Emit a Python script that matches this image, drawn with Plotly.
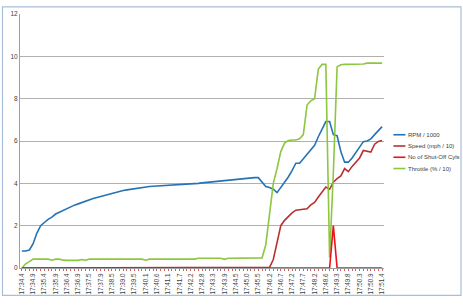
import plotly.graph_objects as go

# ---- data ----
tick_labels = ["17:34.4","17:34.9","17:35.4","17:35.9","17:36.4","17:36.9","17:37.5","17:37.9",
               "17:38.5","17:39.0","17:39.5","17:40.1","17:40.6","17:41.1","17:41.7","17:42.2",
               "17:42.8","17:43.3","17:43.9","17:44.5","17:45.0","17:45.5","17:46.2","17:46.7",
               "17:47.2","17:47.7","17:48.2","17:48.6","17:49.3","17:49.8","17:50.3","17:50.9",
               "17:51.4"]

rpm = [0.8, 0.8, 0.85, 1.15, 1.65, 2.0, 2.15, 2.3, 2.4, 2.55,
       2.63, 2.72, 2.82, 2.9, 2.97, 3.03, 3.1, 3.16, 3.22, 3.28,
       3.33, 3.38, 3.43, 3.48, 3.53, 3.58, 3.62, 3.66, 3.69, 3.72,
       3.75, 3.78, 3.82, 3.84, 3.85, 3.86, 3.87, 3.88, 3.89, 3.9,
       3.91, 3.92, 3.92, 3.93, 3.94, 3.96, 3.98, 4.0, 4.02, 4.04,
       4.06, 4.08, 4.1, 4.12, 4.14, 4.16, 4.18, 4.2, 4.22, 4.24,
       4.25, 4.26, 4.27, 4.27, 4.05, 3.85, 3.8, 3.72, 3.56, 3.8,
       4.05, 4.3, 4.6, 4.95, 4.95, 5.15, 5.4, 5.6, 5.8, 6.2,
       6.6, 6.92, 6.92, 6.3, 6.25, 5.5, 5.0, 5.0, 5.2, 5.45,
       5.7, 5.97, 6.0, 6.1, 6.3, 6.5, 6.68]

speed = [0.0] * 66 + [0.03, 0.4, 1.2, 2.0, 2.25, 2.45, 2.6, 2.73, 2.76, 2.78,
                      2.8, 2.98, 3.1, 3.35, 3.6, 3.82, 3.72, 4.05, 4.22, 4.35,
                      4.7, 4.55, 4.8, 4.98, 5.2, 5.55, 5.5, 5.48, 5.85, 5.98, 6.02]

shutoff = [0]*83 + [2] + [0]*13

throttle = [0.0, 0.2, 0.3, 0.42, 0.42, 0.42, 0.42, 0.42, 0.37, 0.42,
            0.42, 0.37, 0.36, 0.36, 0.36, 0.36, 0.4, 0.36, 0.42, 0.42,
            0.42, 0.42, 0.42, 0.42, 0.42, 0.42, 0.42, 0.42, 0.42, 0.42,
            0.42, 0.42, 0.42, 0.37, 0.42, 0.42, 0.42, 0.42, 0.42, 0.42,
            0.42, 0.42, 0.42, 0.42, 0.42, 0.42, 0.42, 0.46, 0.46, 0.46,
            0.46, 0.46, 0.46, 0.46, 0.41, 0.46, 0.46, 0.46, 0.46, 0.46,
            0.46, 0.46, 0.46, 0.47, 0.48, 1.1, 2.6, 4.0, 4.7, 5.5,
            5.9, 6.02, 6.05, 6.05, 6.1, 6.3, 7.7, 7.9, 8.0, 9.4,
            9.62, 9.62, 0.5, 4.5, 9.5, 9.6, 9.62, 9.62, 9.62, 9.62,
            9.62, 9.64, 9.68, 9.68, 9.68, 9.68, 9.68]

series_names = ["RPM / 1000", "Speed (mph / 10)", "No of Shut-Off Cyls", "Throttle (% / 10)"]
series_colors = ["#2573B5", "#B8312F", "#E8141B", "#8DC63F"]

n = len(rpm)
x = list(range(n))
ticktext = [tick_labels[i // 3] if i % 3 == 0 else "" for i in range(n)]

fig = go.Figure()
# draw order: rpm, speed, throttle, shut-off on top
for name, ys, col in [(series_names[0], rpm, series_colors[0]),
                      (series_names[1], speed, series_colors[1]),
                      (series_names[3], throttle, series_colors[3]),
                      (series_names[2], shutoff, series_colors[2])]:
    fig.add_trace(go.Scatter(x=x, y=ys, mode="lines", name=name,
                             line=dict(color=col, width=1.6), showlegend=False))

# plot-area geometry (pixels)
L, R, T, B = 20, 79.4, 10, 31
W = 463 - L - R
H = 305 - T - B

def px2paper_x(px):
    return (px - L) / W

def px2paper_y(py):
    return (305 - B - py) / H

shapes = []
annotations = []
leg_y = [135.5, 147.2, 158.9, 170.6]
for name, col, py in zip(series_names, series_colors, leg_y):
    shapes.append(dict(type="line", xref="paper", yref="paper",
                       x0=px2paper_x(393), x1=px2paper_x(405),
                       y0=px2paper_y(py), y1=px2paper_y(py),
                       line=dict(color=col, width=1.6)))
    annotations.append(dict(xref="paper", yref="paper", x=px2paper_x(405.5), y=px2paper_y(py),
                            xanchor="left", yanchor="middle", text=name, showarrow=False,
                            font=dict(size=6, color="#404040", family="Liberation Sans")))

# outer chart border
shapes.append(dict(type="rect", xref="paper", yref="paper",
                   x0=px2paper_x(2.5), x1=px2paper_x(460.5),
                   y0=px2paper_y(302.5), y1=px2paper_y(2.5),
                   line=dict(color="#A9BFD9", width=1.2), layer="below"))

fig.update_layout(
    width=463, height=305,
    margin=dict(l=L, r=R, t=T, b=B, pad=0),
    paper_bgcolor="white", plot_bgcolor="white",
    showlegend=False,
    shapes=shapes, annotations=annotations,
    font=dict(family="Liberation Sans", size=6.5, color="#404040"),
    xaxis=dict(range=[-0.5, n - 0.5], tickmode="array", tickvals=x, ticktext=ticktext,
               tickangle=-90, ticks="outside", ticklen=2, tickcolor="#D06060", tickwidth=1,
               showgrid=False, zeroline=False, showline=True, linecolor="#A0A0A0",
               tickfont=dict(size=6.3, color="#404040")),
    yaxis=dict(range=[0, 12], dtick=2, showgrid=True, gridcolor="#B0B0B0", gridwidth=1,
               zeroline=False, showline=True, linecolor="#A0A0A0", ticks="",
               tickfont=dict(size=6.5, color="#404040")),
)

fig.write_html("out.html")
